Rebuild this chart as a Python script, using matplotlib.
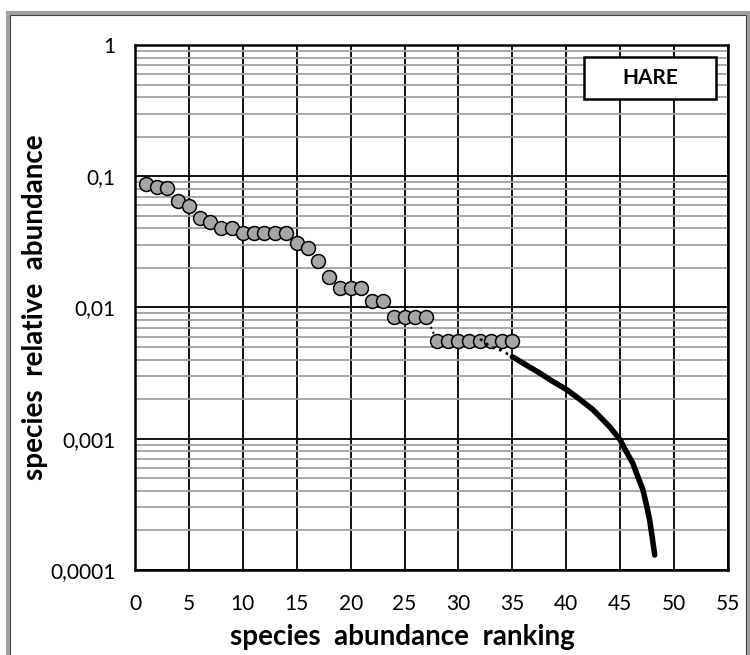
import matplotlib
matplotlib.use('Agg')
import matplotlib.pyplot as plt
import numpy as np
from matplotlib.patches import Rectangle

plt.rcParams['font.family'] = ['Lato', 'DejaVu Sans']

# observed species (rank, relative abundance)
rank = np.arange(1, 36)
abund = [0.0873, 0.0824, 0.082, 0.065, 0.0593, 0.048, 0.045, 0.040, 0.040,
         0.0367, 0.0367, 0.0367, 0.0367, 0.0367, 0.0312, 0.0282, 0.0226,
         0.017, 0.0142, 0.0142, 0.0142, 0.0113, 0.0113, 0.0085, 0.0085,
         0.0085, 0.0085, 0.0056, 0.0056, 0.0056, 0.0056, 0.0056, 0.0056,
         0.0056, 0.0056]

# fitted curve: dotted part and solid extrapolation
fit_dot_x = [32, 33, 34, 35]
fit_dot_y = [0.00575, 0.0050, 0.0047, 0.00421]
fit_x = [35.0, 37.49, 38.72, 40.03, 41.2, 42.45, 44.0, 45.0, 45.31, 46.17,
         46.63, 47.1, 47.47, 47.73, 47.96, 48.2]
fit_y = [0.00421, 0.00318, 0.00274, 0.00237, 0.00201, 0.00167, 0.00124, 0.00098,
         0.00087, 0.00065, 0.000515, 0.00041, 0.000304, 0.00024, 0.00018, 0.00013]

yticks = [0.0001, 0.001, 0.01, 0.1, 1]
ytick_labels = ['0,0001', '0,001', '0,01', '0,1', '1']
xticks = list(range(0, 56, 5))

fig = plt.figure(figsize=(7.5, 6.55), dpi=100)
ax = fig.add_axes([0.18, 0.1298, 0.7907, 0.8015])

ax.set_yscale('log')
ax.set_xlim(0, 55)
ax.set_ylim(0.0001, 1)

# grid
ax.set_yticks(yticks)
ax.set_yticklabels(ytick_labels)
ax.set_xticks(xticks)
ax.yaxis.set_minor_locator(matplotlib.ticker.LogLocator(base=10, subs=np.arange(2, 10)))
ax.yaxis.set_minor_formatter(matplotlib.ticker.NullFormatter())
ax.grid(which='minor', axis='y', color='#a0a0a0', linewidth=1.3, zorder=0)
ax.grid(which='major', axis='both', color='black', linewidth=1.3, zorder=0.5)
ax.tick_params(which='both', length=0, labelsize=15, pad=14)
ax.tick_params(axis='x', pad=17)
for sp in ax.spines.values():
    sp.set_linewidth(1.8)
    sp.set_zorder(5)

# dotted step between rank 27 and 28
ax.plot(rank[26:28], abund[26:28], color='black', linestyle=':', linewidth=1.5, zorder=2)
ax.plot(rank, abund, linestyle='none', marker='o', markersize=10,
        markerfacecolor='#a6a6a6', markeredgecolor='black', markeredgewidth=1.1, zorder=3)
ax.plot(fit_dot_x, fit_dot_y, color='black', linestyle=':', linewidth=2, zorder=4)
ax.plot(fit_x, fit_y, color='black', linewidth=4, solid_capstyle='round', zorder=4)

ax.set_xlabel('species  abundance  ranking', fontsize=20, fontweight='bold', va='baseline')
ax.xaxis.set_label_coords(0.4503, -0.1429)
ax.set_ylabel('species  relative  abundance', fontsize=20, fontweight='bold',
              va='center', ha='center')
ax.yaxis.set_label_coords(-0.1686, 0.5)

# label box
ax.add_patch(Rectangle((0.757, 0.897), 0.223, 0.081, transform=ax.transAxes,
                       facecolor='white', edgecolor='black', linewidth=1.8, zorder=6))
ax.text(0.8685, 0.9375, 'HARE', transform=ax.transAxes, ha='center', va='center',
        fontsize=15, fontweight='bold', zorder=7)

# chart frame
fig.patches.append(Rectangle((8 / 750, -0.01), 740 / 750, (655 - 13) / 655 + 0.01,
                             transform=fig.transFigure, facecolor='none',
                             edgecolor='#a0a0a0', linewidth=3))
fig.patches.append(Rectangle((10 / 750, -0.01), 736 / 750, (655 - 15) / 655 + 0.01,
                             transform=fig.transFigure, facecolor='none',
                             edgecolor='#404040', linewidth=0.8))

plt.savefig('out.png', dpi=100)
